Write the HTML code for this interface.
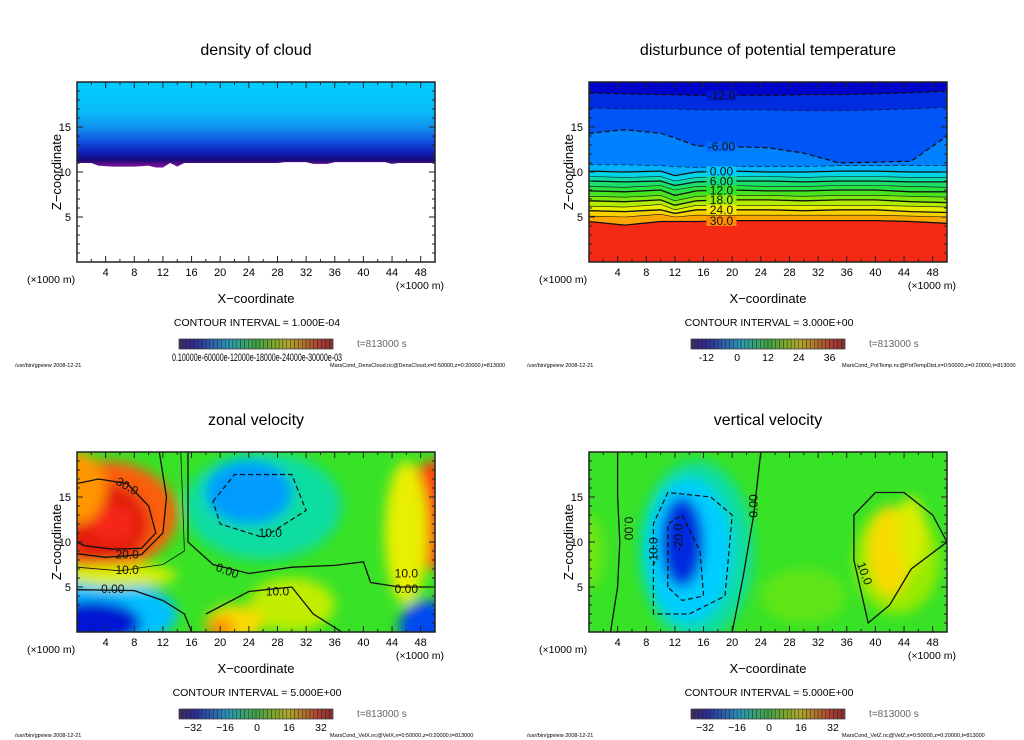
<!DOCTYPE html>
<html><head><meta charset="utf-8">
<style>
html,body{margin:0;padding:0;background:#fff;}
svg{display:block;font-family:"Liberation Sans",sans-serif;}
</style></head>
<body>
<svg id="root" width="1024" height="740" viewBox="0 0 1024 740" xmlns="http://www.w3.org/2000/svg">
<defs>
<filter id="blur" x="-20%" y="-20%" width="140%" height="140%"><feGaussianBlur stdDeviation="6"/></filter>
<clipPath id="clipBL"><rect x="77" y="452" width="358" height="180"/></clipPath>
<clipPath id="clipBR"><rect x="589" y="452" width="358" height="180"/></clipPath>
<clipPath id="clipTR"><rect x="589" y="82" width="358" height="180"/></clipPath>
<linearGradient id="cloudGrad" gradientUnits="userSpaceOnUse" x1="0" y1="82" x2="0" y2="165">
<stop offset="0" stop-color="#00ccff"/><stop offset="0.35" stop-color="#08bcfa"/>
<stop offset="0.55" stop-color="#1090f0"/><stop offset="0.72" stop-color="#1050e0"/>
<stop offset="0.87" stop-color="#1018b0"/><stop offset="0.94" stop-color="#180a78"/><stop offset="1" stop-color="#6a1090"/>
</linearGradient>
</defs>
</svg>
<script>
// ---------- DATA ----------
const xTicks=[4,8,12,16,20,24,28,32,36,40,44,48];
const zTicks=[5,10,15];
const cloudX=[0,2,3,5,8,10,11,12,13,14,15,20,28,29,32,33,35,36,40,43,44,45,46,50];
const cloudBase=[11.0,11.0,10.7,10.6,10.6,10.7,10.5,10.5,11.0,10.6,11.0,11.0,11.0,11.1,11.1,10.9,10.9,11.1,11.1,11.1,10.9,11.0,11.0,11.0];
const tempX=[0,5,10,12,15,20,25,30,35,40,45,50];
const tempLevels=[-12,-9,-6,-3,0,3,6,9,12,15,18,21,24,27,30];
const tempHeights=[
[18.8,18.7,18.6,18.6,18.5,18.5,18.5,18.6,18.6,18.7,18.8,19.0],
[17.1,17.0,17.0,17.0,16.9,16.9,16.9,16.8,16.8,16.9,17.0,17.2],
[14.3,14.7,14.3,13.8,12.9,12.8,12.7,12.1,11.0,11.1,11.2,14.0],
[10.8,10.8,10.7,10.6,10.5,10.6,10.6,10.6,10.7,10.7,10.7,10.7],
[10.1,10.0,10.1,9.6,10.0,10.1,10.0,10.0,10.1,10.1,10.0,10.0],
[9.5,9.4,9.5,9.0,9.4,9.5,9.5,9.4,9.5,9.5,9.4,9.4],
[9.0,8.9,9.0,8.5,8.9,9.0,9.0,8.9,9.0,9.0,8.9,8.9],
[8.4,8.3,8.5,8.0,8.4,8.5,8.4,8.4,8.5,8.5,8.4,8.3],
[7.9,7.8,8.0,7.4,7.9,8.0,7.9,7.9,8.0,8.0,7.8,7.8],
[7.3,7.2,7.4,6.8,7.3,7.4,7.4,7.3,7.4,7.4,7.3,7.2],
[6.8,6.7,6.9,6.3,6.8,6.9,6.9,6.8,6.9,6.9,6.7,6.6],
[6.2,6.1,6.4,5.8,6.3,6.3,6.3,6.3,6.3,6.3,6.2,6.1],
[5.7,5.6,5.8,5.4,5.8,5.8,5.8,5.7,5.8,5.8,5.6,5.5],
[5.1,5.0,5.3,5.0,5.2,5.2,5.2,5.2,5.2,5.2,5.1,5.0],
[4.5,4.1,4.5,4.5,4.5,4.6,4.6,4.6,4.6,4.6,4.5,4.3]];
const uBg=2;
const uBlobX=[26,2,4,24,4,2,49,50,46,6,30,22,20,5,0];
const uBlobZ=[14,2,13,15.5,12,1,0.5,13,11,6.3,3,1,0.5,12,16];
const uBlobV=[-8,-15,28,-18,34,-30,-25,30,15,14,12,18,25,32,24];
const uBlobRx=[11,12,10,6,6,7,4,5,3,8,6,4,2,3,4];
const uBlobRz=[6,4,6,3.5,4.5,2.5,3,6,8,1.3,3,2,1,2,4];
const wBg=2;
const wBlobX=[15,14,13,43,42,45,0,30];
const wBlobZ=[9,9,10,8,9,11,9,4];
const wBlobV=[-8,-14,-28,9,18,14,6,5];
const wBlobRx=[8,6,3,6,3,2,2,6];
const wBlobRz=[10,8,5,6,5,4,4,3];
const uLine30=[[0,16.5],[3,17],[7,16.5],[10,14],[11,11],[9,9.3],[5,9.2],[1,9.6],[0,10]];
const uLine20=[[0,8.7],[4,8.3],[9,8.6],[12,11],[12.5,15],[11.5,20]];
const uLine10=[[0,7.2],[6,6.8],[12,7.5],[15,9],[14.5,20]];
const uLine0a=[[0,4.7],[8,4.6],[12,3.5],[15,2],[16,0]];
const uLine0b=[[15.5,20],[15.5,10],[19,7.5],[24,6.5],[30,7.2],[36,7.4],[40,7.8],[41,5.5],[45,5],[50,5]];
const uLineN10=[[19,14.5],[22,17.5],[30,17.5],[32,13.5],[26,10.5],[20,12]];
const uLine10b=[[18,2],[24,4.5],[30,5],[33,2],[37,0]];
const wLine0a=[[4,20],[4,15],[4.3,10],[4,5],[3,0]];
const wLine0b=[[24,20],[23,13],[21.5,6],[20,0]];
const wLineN10=[[9,2],[9,12],[11,15.5],[17,15],[20,13],[19,4],[14,2]];
const wLineN20=[[11,5],[11,12],[13,13],[15.5,9],[16,4],[13,3.5]];
const wLine10=[[37,13],[40,15.5],[44,15.5],[48,13],[50,10],[45,7],[42,3],[39,1],[37,8]];
// ---------- HELPERS ----------
const NS="http://www.w3.org/2000/svg";
const root=document.getElementById('root');
const cmStops=[[0,[40,0,90]],[0.1,[0,0,200]],[0.22,[0,100,255]],[0.33,[0,210,255]],[0.43,[20,225,120]],[0.52,[50,225,40]],[0.62,[160,235,0]],[0.7,[245,240,0]],[0.8,[255,150,0]],[0.9,[245,40,20]],[1,[170,0,0]]];
function jet(t){t=Math.max(0,Math.min(1,t));for(let i=0;i<cmStops.length-1;i++){const [a,ca]=cmStops[i],[b,cb]=cmStops[i+1];
  if(t<=b){const f=(t-a)/(b-a);return `rgb(${ca.map((c,k)=>Math.round(c+f*(cb[k]-c))).join(',')})`;}}return 'rgb(170,0,0)';}
function mk(tag,attrs,parent,txt){const e=document.createElementNS(NS,tag);for(const k in attrs)e.setAttribute(k,attrs[k]);if(txt!==undefined)e.textContent=txt;(parent||root).appendChild(e);return e;}
function axes(px,py){const w=358,h=180;return {X:x=>px+x/50*w,Y:z=>py+h-z/20*h,px,py,w,h};}
function interp(xs,ys,x){for(let i=0;i<xs.length-1;i++){if(x>=xs[i]&&x<=xs[i+1]){const f=(x-xs[i])/(xs[i+1]-xs[i]);return ys[i]+f*(ys[i+1]-ys[i]);}}return ys[ys.length-1];}
function linePath(a,pts,closed){return pts.map((p,i)=>(i?'L':'M')+a.X(p[0]).toFixed(1)+','+a.Y(p[1]).toFixed(1)).join('')+(closed?'Z':'');}

function frame(a,g,title,cx){
  const t=mk('text',{x:cx,y:a.py-27,'text-anchor':'middle','font-size':16},g,title);
  
  const r=mk('rect',{x:a.px,y:a.py,width:a.w,height:a.h,fill:'none',stroke:'#222','stroke-width':1.5},g);
  
  let tk='';
  for(let x=2;x<50;x+=2){const L=(x%4===0)?6:3;tk+=`M${a.X(x)},${a.py+a.h}v${-L}M${a.X(x)},${a.py}v${L}`;}
  for(let z=1;z<20;z++){const L=(z%5===0)?6:3;tk+=`M${a.px},${a.Y(z)}h${L}M${a.px+a.w},${a.Y(z)}h${-L}`;}
  const tp=mk('path',{d:tk,stroke:'#222','stroke-width':1,fill:'none'},g);
  
  xTicks.forEach(v=>{const e=mk('text',{x:a.X(v),y:a.py+a.h+14,'text-anchor':'middle','font-size':11},g,String(v));
    });
  zTicks.forEach(v=>{const e=mk('text',{x:a.px-6,y:a.Y(v)+4,'text-anchor':'end','font-size':11},g,String(v));
    });
  const yl=mk('text',{x:0,y:0,'text-anchor':'middle','font-size':13,transform:`translate(${a.px-16},${a.py+90}) rotate(-90)`},g,'Z\u2212coordinate');
  
  const u1=mk('text',{x:a.px-50,y:a.py+a.h+21,'font-size':10.5},g,'(\u00d71000 m)');
  
  const u2=mk('text',{x:a.px+a.w+9,y:a.py+a.h+27,'text-anchor':'end','font-size':10.5},g,'(\u00d71000 m)');
  
  const xl=mk('text',{x:cx,y:a.py+a.h+41,'text-anchor':'middle','font-size':13},g,'X\u2212coordinate');
  
}
function colorbar(g,bx,by,interval,labels,labelVals,vmin,vmax,rightFoot,gx,custom){
  const ci=mk('text',{x:bx+78,y:by-13,'text-anchor':'middle','font-size':10.5},g,'CONTOUR INTERVAL = '+interval);
  
  const n=40,w=154/n;
  for(let i=0;i<n;i++){const t=(i+0.5)/n;const c=mk('rect',{x:bx+i*w,y:by,width:w,height:10,fill:jet(t),stroke:'#333','stroke-width':0.4,'fill-opacity':0.75},g);
    }
  const bf=mk('rect',{x:bx,y:by,width:154,height:10,fill:'#000','fill-opacity':0.3,stroke:'#444','stroke-width':0.6},g);
  
  if(custom){const e=mk('text',{x:bx+78,y:by+22,'text-anchor':'middle','font-size':11,textLength:170,lengthAdjust:'spacingAndGlyphs'},g,custom);
    }
  else labels.forEach((l,i)=>{const x=bx+(labelVals[i]-vmin)/(vmax-vmin)*154;
    const e=mk('text',{x:x,y:by+22,'text-anchor':'middle','font-size':10.5},g,l);
    });
  const tt=mk('text',{x:bx+178,y:by+8,'font-size':10,fill:'#666'},g,'t=813000 s');
  
  const f1=mk('text',{x:gx+15,y:by+28,'font-size':5.5},g,'/usr/bin/gpview   2008-12-21');
  
  const f2=mk('text',{x:gx+330,y:by+28,'font-size':5.5},g,rightFoot);
  
}
function drawBlobs(a,g,clip,bg,xs,zs,vs,rxs,rzs,vmin,vmax){
  const cg=mk('g',{'clip-path':`url(#${clip})`},g);
  const b=mk('rect',{x:a.px,y:a.py,width:a.w,height:a.h,fill:jet((bg-vmin)/(vmax-vmin))},cg);
  
  const fg=mk('g',{filter:'url(#blur)'},cg);
  xs.forEach((x,i)=>{const e=mk('ellipse',{cx:a.X(x),cy:a.Y(zs[i]),rx:rxs[i]/50*a.w,ry:rzs[i]/20*a.h,fill:jet((vs[i]-vmin)/(vmax-vmin))},fg);
    });
  return cg;
}
function cline(a,g,pts,dash,wd,closed,name){const p=mk('path',{d:linePath(a,pts,closed),fill:'none',stroke:'#111','stroke-width':wd,'stroke-dasharray':dash?'5,3':'none'},g);
  }
function clabel(a,g,x,z,txt,rot){const e=mk('text',{x:a.X(x),y:a.Y(z)+4,'text-anchor':'middle','font-size':12,fill:'#111',transform:rot?`rotate(${rot},${a.X(x)},${a.Y(z)})`:''},g,txt);
  }

// ---------- PANEL 1 ----------
{const g=mk('g',{});
 const a=axes(77,82);
 const xs=[];for(let x=0;x<=50;x+=0.5)xs.push(x);
 let d='M'+a.X(0)+','+a.Y(20);xs.forEach(x=>{d+='L'+a.X(x).toFixed(1)+','+a.Y(interp(cloudX,cloudBase,x)).toFixed(1);});d+='L'+a.X(50)+','+a.Y(20)+'Z';
 const p=mk('path',{d:d,fill:'url(#cloudGrad)'},g);
 frame(a,g,'density of cloud',256);
 colorbar(g,179,339,'1.000E-04',[],[],0,1,'MarsCond_DensCloud.nc@DensCloud,x=0:50000,z=0:20000,t=813000',0,'0.10000e-60000e-12000e-18000e-24000e-30000e-03');
}
// ---------- PANEL 2 ----------
{const g=mk('g',{});
 const a=axes(589,82);const vmin=-20,vmax=42;
 const cg=mk('g',{'clip-path':'url(#clipTR)'},g);
 const bg=mk('rect',{x:a.px,y:a.py,width:a.w,height:a.h,fill:'#f42a14'},cg);
 
 for(let i=tempLevels.length-1;i>=0;i--){
   const pts=tempX.map((x,j)=>[x,tempHeights[i][j]]);
   let d=linePath(a,pts)+`L${a.X(50)},${a.Y(20)}L${a.X(0)},${a.Y(20)}Z`;
   const p=mk('path',{d:d,fill:jet((tempLevels[i]-1.5-vmin)/(vmax-vmin))},cg);
   
 }
 tempLevels.forEach((lv,i)=>{const pts=tempX.map((x,j)=>[x,tempHeights[i][j]]);
   cline(a,cg,pts,lv<0,lv%6===0?1.3:0.6,false,'contour-line');});
 [[-12,0],[-6,2],[0,4],[6,6],[12,8],[18,10],[24,12],[30,14]].forEach(([lv,i])=>{
   const z=interp(tempX,tempHeights[i],18.5);const bgc=mk('rect',{x:a.X(18.5)-15,y:a.Y(z)-5,width:30,height:10,fill:jet((lv-vmin)/(vmax-vmin))},cg);
   
   clabel(a,cg,18.5,z,lv<0?(lv===-12?'-12.0':'-6.00'):(lv<10?lv.toFixed(2):lv.toFixed(1)));});
 frame(a,g,'disturbunce of potential temperature',768);
 colorbar(g,691,339,'3.000E+00',['-12','0','12','24','36'],[-12,0,12,24,36],-18,42,'MarsCond_PotTemp.nc@PotTempDist,x=0:50000,z=0:20000,t=813000',512);
}
// ---------- PANEL 3 ----------
{const g=mk('g',{});
 const a=axes(77,452);const vmin=-40,vmax=40;
 const cg=drawBlobs(a,g,'clipBL',uBg,uBlobX,uBlobZ,uBlobV,uBlobRx,uBlobRz,vmin,vmax);
 cline(a,cg,uLine30,false,1.3,true,'contour-30');cline(a,cg,uLine20,false,1.3,false,'contour-20');
 cline(a,cg,uLine10,false,0.8,false,'contour-10');cline(a,cg,uLine0a,false,1.3,false,'contour-0');
 cline(a,cg,uLine0b,false,1.3,false,'contour-0');cline(a,cg,uLineN10,true,1.2,true,'contour-neg10');
 cline(a,cg,uLine10b,false,1.3,false,'contour-10');
 clabel(a,cg,7,16.2,'30.0',30);clabel(a,cg,7,8.6,'20.0');clabel(a,cg,7,6.9,'10.0');clabel(a,cg,5,4.8,'0.00');
 clabel(a,cg,27,11,'10.0');clabel(a,cg,21,6.8,'0.00',20);clabel(a,cg,46,6.5,'10.0');clabel(a,cg,46,4.8,'0.00');clabel(a,cg,28,4.5,'10.0');
 frame(a,g,'zonal velocity',256);
 colorbar(g,179,709,'5.000E+00',['\u221232','\u221216','0','16','32'],[-32,-16,0,16,32],-39,38,'MarsCond_VelX.nc@VelX,x=0:50000,z=0:20000,t=813000',0);
}
// ---------- PANEL 4 ----------
{const g=mk('g',{});
 const a=axes(589,452);const vmin=-40,vmax=40;
 const cg=drawBlobs(a,g,'clipBR',wBg,wBlobX,wBlobZ,wBlobV,wBlobRx,wBlobRz,vmin,vmax);
 cline(a,cg,wLine0a,false,1.3,false,'contour-0');cline(a,cg,wLine0b,false,1.3,false,'contour-0');
 cline(a,cg,wLineN10,true,1.2,true,'contour-neg10');cline(a,cg,wLineN20,true,1.2,true,'contour-neg20');
 cline(a,cg,wLine10,false,1.3,true,'contour-10');
 clabel(a,cg,5.5,11.5,'0.00',90);clabel(a,cg,9,9,'-10.0',-90);clabel(a,cg,12.5,10.5,'-20.0',-90);
 clabel(a,cg,23,14,'0.00',-90);clabel(a,cg,38.5,6.5,'10.0',70);
 frame(a,g,'vertical velocity',768);
 colorbar(g,691,709,'5.000E+00',['\u221232','\u221216','0','16','32'],[-32,-16,0,16,32],-39,38,'MarsCond_VelZ.nc@VelZ,x=0:50000,z=0:20000,t=813000',512);
}
</script>
</body></html>
